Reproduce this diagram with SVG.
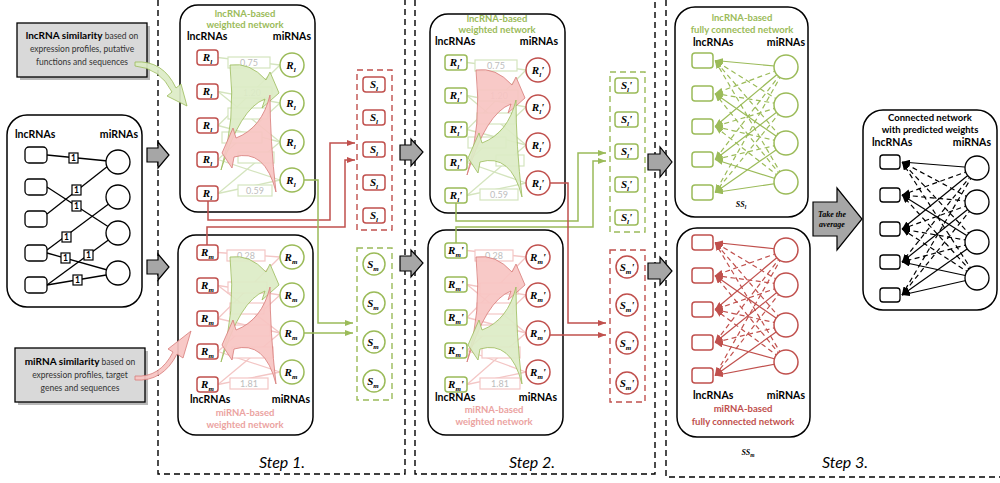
<svg xmlns="http://www.w3.org/2000/svg" width="1000" height="483" viewBox="0 0 1000 483">
<defs>
<style>
.dash{fill:none;stroke:#000;stroke-width:1.4;stroke-dasharray:6 4}
.panel{fill:#fff;stroke:#000;stroke-width:1.5}
.hdr{font-family:Lato,"Liberation Sans",sans-serif;font-weight:bold;font-size:10.5px;fill:#000}
.ttl{font-family:Lato,"Liberation Sans",sans-serif;font-weight:bold;font-size:9.5px;text-anchor:middle}
.tg{fill:#9bbb59}.tp{fill:#eba3a1}.tr{fill:#c0504d}.tk{fill:#000}
.sqR{fill:#fff;stroke:#c0504d;stroke-width:1.5}
.sqG{fill:#fff;stroke:#9bbb59;stroke-width:1.5}
.sqK{fill:#fff;stroke:#000;stroke-width:1.3}
.lab{font-family:"Liberation Serif",serif;font-style:italic;font-weight:bold;font-size:11px;text-anchor:middle;fill:#000}
.sub{font-size:7px}
.eG{stroke:#d4e4be;stroke-width:1.3;fill:none}
.eP{stroke:#f3c6c5;stroke-width:1.3;fill:none}
.wbG{fill:#fff;stroke:#d4e4be;stroke-width:1.2}
.wbP{fill:#fff;stroke:#f3c6c5;stroke-width:1.2}
.wt{font-family:Lato,"Liberation Sans",sans-serif;font-size:9px;fill:#bdbdbd;text-anchor:middle}
.swG{fill:#dcecc6;stroke:#9bbb59;stroke-width:.8;fill-opacity:.92}
.swR{fill:#f7c4c2;stroke:#d77b78;stroke-width:.8;fill-opacity:.92}
.gArr{fill:#a6a6a6;stroke:#000;stroke-width:1.2}
.cR{fill:none;stroke:#c0504d;stroke-width:1.5}
.cG{fill:none;stroke:#9bbb59;stroke-width:1.5}
.fG{fill:none;stroke:#9bbb59;stroke-width:1.2}
.fR{fill:none;stroke:#c0504d;stroke-width:1.2}
.fK{fill:none;stroke:#000;stroke-width:1.2}
.d{stroke-dasharray:5 3.5}
.gb{fill:#d9d9d9;stroke:#000;stroke-width:1.3}
.sh{fill:#7f7f7f;opacity:.55}
.gt{font-family:Lato,"Liberation Sans",sans-serif;font-size:8.5px;fill:#333;text-anchor:middle}
.gtb{font-weight:bold;font-size:10px;fill:#000}
.one{font-family:Lato,"Liberation Sans",sans-serif;font-weight:bold;font-size:8.5px;text-anchor:middle}
.step{font-family:Lato,"Liberation Sans",sans-serif;font-style:italic;font-size:16px;text-anchor:middle;fill:#000}
.avg{font-family:"Liberation Serif",serif;font-style:italic;font-weight:bold;font-size:8px;text-anchor:middle;fill:#000}
</style>
<marker id="mR" viewBox="0 0 8 6" refX="8" refY="3" markerWidth="8" markerHeight="6" markerUnits="userSpaceOnUse" orient="auto"><path d="M0,0 L8,3 L0,6 Z" fill="#c0504d"/></marker>
<marker id="mG" viewBox="0 0 8 6" refX="8" refY="3" markerWidth="8" markerHeight="6" markerUnits="userSpaceOnUse" orient="auto"><path d="M0,0 L8,3 L0,6 Z" fill="#9bbb59"/></marker>
<marker id="mK" viewBox="0 0 8 6" refX="8" refY="3" markerWidth="8" markerHeight="6" markerUnits="userSpaceOnUse" orient="auto"><path d="M0,0 L8,3 L0,6 Z" fill="#000"/></marker>
<path id="swA" d="M230,65 Q250,62 266,80 L270,72 L279,93 L262,108 L265,99 Q240,108 221,170 Q236,120 230,65 Z"/>
<path id="swB" d="M270,95 Q262,128 236,138 L233,128 L222,153 L232,168 L234,157 Q265,148 276,192 Q270,140 270,95 Z"/>
</defs>
<rect width="1000" height="483" fill="#fff"/>

<g id="step-frames">
<path class="dash" d="M158,0 V474 H405 V0"/>
<path class="dash" d="M415,0 V474 H655 V0"/>
<path class="dash" d="M666,0 V477 H1000"/>
<text class="step" x="282" y="468">Step 1.</text>
<text class="step" x="532" y="468">Step 2.</text>
<text class="step" x="845" y="468">Step 3.</text>
</g>

<g id="lnc-similarity">
<rect class="sh" x="20" y="26" width="130" height="54"/>
<rect class="gb" x="17" y="23" width="130" height="54"/>
<text class="gt" x="82" y="39"><tspan class="gtb">lncRNA similarity</tspan> based on</text>
<text class="gt" x="82" y="52">expression profiles, putative</text>
<text class="gt" x="82" y="65">functions and sequences</text>
</g>
<g id="mi-similarity">
<rect class="sh" x="18" y="351" width="130" height="54"/>
<rect class="gb" x="15" y="348" width="130" height="54"/>
<text class="gt" x="80" y="365"><tspan class="gtb">miRNA similarity</tspan> based on</text>
<text class="gt" x="80" y="378">expression profiles, target</text>
<text class="gt" x="80" y="391">genes and sequences</text>
</g>

<g id="bipartite">
<rect class="panel" x="7" y="115" width="135" height="192" rx="20"/>
<text class="hdr" x="15" y="138">lncRNAs</text>
<text class="hdr" x="138" y="138" text-anchor="end">miRNAs</text>
<g stroke="#000" stroke-width="1.3">
<line x1="47" y1="155" x2="118" y2="162"/>
<line x1="47" y1="214" x2="108" y2="166"/>
<line x1="47" y1="187" x2="118" y2="233"/>
<line x1="47" y1="250" x2="118" y2="197"/>
<line x1="47" y1="285" x2="118" y2="233"/>
<line x1="47" y1="253" x2="118" y2="273"/>
<line x1="47" y1="285" x2="118" y2="273"/>
</g>
<g fill="#fff" stroke="#000" stroke-width="1.2">
<rect x="69" y="153" width="9" height="10"/>
<rect x="72" y="185" width="9" height="10"/>
<rect x="72" y="201" width="9" height="10"/>
<rect x="62" y="232" width="9" height="10"/>
<rect x="84" y="250" width="9" height="10"/>
<rect x="61" y="253" width="9" height="10"/>
<rect x="73" y="275" width="9" height="10"/>
</g>
<g class="one">
<text x="73.5" y="161">1</text>
<text x="76.5" y="193">1</text>
<text x="76.5" y="209">1</text>
<text x="66.5" y="240">1</text>
<text x="88.5" y="258">1</text>
<text x="65.5" y="261">1</text>
<text x="77.5" y="283">1</text>
</g>
<g class="sqK">
<rect x="25" y="147" width="22" height="16" rx="4"/>
<rect x="25" y="179" width="22" height="16" rx="4"/>
<rect x="25" y="211" width="22" height="16" rx="4"/>
<rect x="25" y="245" width="22" height="16" rx="4"/>
<rect x="25" y="277" width="22" height="16" rx="4"/>
<circle cx="118" cy="162" r="12"/>
<circle cx="118" cy="197" r="12"/>
<circle cx="118" cy="233" r="12"/>
<circle cx="118" cy="273" r="12"/>
</g>
</g>

<!-- Step 1 top -->
<g id="s1-lnc-network">
<rect class="panel" x="180" y="5" width="135" height="207" rx="18"/>
<text class="ttl tg" x="245" y="17">lncRNA-based</text>
<text class="ttl tg" x="245" y="28">weighted network</text>
<text class="hdr" x="187" y="40">lncRNAs</text>
<text class="hdr" x="311" y="40" text-anchor="end">miRNAs</text>
<g class="eG">
<line x1="218" y1="57.5" x2="280" y2="65"/><line x1="218" y1="91.5" x2="280" y2="103"/><line x1="218" y1="91.5" x2="280" y2="142"/>
<line x1="218" y1="125.5" x2="280" y2="65"/><line x1="218" y1="125.5" x2="280" y2="142"/><line x1="218" y1="159.5" x2="280" y2="103"/>
<line x1="218" y1="159.5" x2="280" y2="180"/><line x1="218" y1="193.5" x2="280" y2="142"/><line x1="218" y1="193.5" x2="280" y2="180"/>
</g>
<g class="wbG">
<rect x="228" y="57" width="42" height="11"/><rect x="232" y="87" width="40" height="11"/><rect x="228" y="108" width="40" height="11"/>
<rect x="222" y="132" width="40" height="11"/><rect x="238" y="152" width="36" height="11"/><rect x="238" y="185" width="34" height="11"/>
</g>
<text class="wt" x="249" y="66">0.75</text><text class="wt" x="252" y="96">1.20</text><text class="wt" x="255" y="194">0.59</text>
<use href="#swA" class="swG"/>
<use href="#swB" class="swR"/>
<g class="sqR"><rect x="197" y="50" width="21" height="15" rx="3"/><rect x="197" y="84" width="21" height="15" rx="3"/><rect x="197" y="118" width="21" height="15" rx="3"/><rect x="197" y="152" width="21" height="15" rx="3"/><rect x="197" y="186" width="21" height="15" rx="3"/></g>
<g class="sqG"><circle cx="292" cy="65" r="12"/><circle cx="292" cy="103" r="12"/><circle cx="292" cy="142" r="12"/><circle cx="292" cy="180" r="12"/></g>
<g class="lab">
<text x="207.5" y="61">R<tspan class="sub" dy="2.5">l</tspan></text><text x="207.5" y="95">R<tspan class="sub" dy="2.5">l</tspan></text><text x="207.5" y="129">R<tspan class="sub" dy="2.5">l</tspan></text><text x="207.5" y="163">R<tspan class="sub" dy="2.5">l</tspan></text><text x="207.5" y="197">R<tspan class="sub" dy="2.5">l</tspan></text>
<text x="291" y="69">R<tspan class="sub" dy="2.5">l</tspan></text><text x="291" y="107">R<tspan class="sub" dy="2.5">l</tspan></text><text x="291" y="146">R<tspan class="sub" dy="2.5">l</tspan></text><text x="291" y="184">R<tspan class="sub" dy="2.5">l</tspan></text>
</g>
</g>

<!-- Step 1 bottom -->
<g id="s1-mi-network">
<rect class="panel" x="178" y="235" width="135" height="200" rx="18"/>
<text class="hdr" x="190" y="403">lncRNAs</text>
<text class="hdr" x="310" y="403" text-anchor="end">miRNAs</text>
<text class="ttl tp" x="245" y="416">miRNA-based</text>
<text class="ttl tp" x="245" y="428">weighted network</text>
<g class="eP">
<line x1="218" y1="252.5" x2="280" y2="257"/><line x1="218" y1="285.5" x2="280" y2="295"/><line x1="218" y1="285.5" x2="280" y2="333"/>
<line x1="218" y1="318.5" x2="280" y2="257"/><line x1="218" y1="318.5" x2="280" y2="333"/><line x1="218" y1="351.5" x2="280" y2="295"/>
<line x1="218" y1="351.5" x2="280" y2="372"/><line x1="218" y1="384.5" x2="280" y2="333"/><line x1="218" y1="384.5" x2="280" y2="372"/>
</g>
<g class="wbP">
<rect x="227" y="250" width="38" height="11"/><rect x="228" y="282" width="39" height="11"/><rect x="230" y="303" width="34" height="11"/>
<rect x="232" y="325" width="38" height="11"/><rect x="232" y="347" width="41" height="11"/><rect x="230" y="378" width="38" height="11"/>
</g>
<text class="wt" x="246" y="259">0.28</text><text class="wt" x="249" y="387">1.81</text>
<use href="#swA" class="swG" transform="translate(0,192)"/>
<use href="#swB" class="swR" transform="translate(0,192)"/>
<g class="sqR"><rect x="197" y="245" width="21" height="15" rx="3"/><rect x="197" y="278" width="21" height="15" rx="3"/><rect x="197" y="311" width="21" height="15" rx="3"/><rect x="197" y="344" width="21" height="15" rx="3"/><rect x="197" y="377" width="21" height="15" rx="3"/></g>
<g class="sqG"><circle cx="292" cy="257" r="12"/><circle cx="292" cy="295" r="12"/><circle cx="292" cy="333" r="12"/><circle cx="292" cy="372" r="12"/></g>
<g class="lab">
<text x="207.5" y="256">R<tspan class="sub" dy="2.5">m</tspan></text><text x="207.5" y="289">R<tspan class="sub" dy="2.5">m</tspan></text><text x="207.5" y="322">R<tspan class="sub" dy="2.5">m</tspan></text><text x="207.5" y="355">R<tspan class="sub" dy="2.5">m</tspan></text><text x="207.5" y="388">R<tspan class="sub" dy="2.5">m</tspan></text>
<text x="291" y="261">R<tspan class="sub" dy="2.5">m</tspan></text><text x="291" y="299">R<tspan class="sub" dy="2.5">m</tspan></text><text x="291" y="337">R<tspan class="sub" dy="2.5">m</tspan></text><text x="291" y="376">R<tspan class="sub" dy="2.5">m</tspan></text>
</g>
</g>

<!-- Step 1 S columns -->
<g id="s1-Sl">
<rect class="dash" x="357" y="70" width="35" height="160" style="stroke:#c0504d"/>
<g class="sqR"><rect x="363" y="77" width="22" height="15" rx="3"/><rect x="363" y="110" width="22" height="15" rx="3"/><rect x="363" y="142" width="22" height="15" rx="3"/><rect x="363" y="175" width="22" height="15" rx="3"/><rect x="363" y="208" width="22" height="15" rx="3"/></g>
<g class="lab"><text x="374" y="88">S<tspan class="sub" dy="2.5">l</tspan></text><text x="374" y="121">S<tspan class="sub" dy="2.5">l</tspan></text><text x="374" y="153">S<tspan class="sub" dy="2.5">l</tspan></text><text x="374" y="186">S<tspan class="sub" dy="2.5">l</tspan></text><text x="374" y="219">S<tspan class="sub" dy="2.5">l</tspan></text></g>
</g>
<g id="s1-Sm">
<rect class="dash" x="357" y="248" width="35" height="152" style="stroke:#9bbb59"/>
<g class="sqG"><circle cx="374" cy="264" r="11"/><circle cx="374" cy="303" r="11"/><circle cx="374" cy="342" r="11"/><circle cx="374" cy="381" r="11"/></g>
<g class="lab"><text x="373" y="268">S<tspan class="sub" dy="2.5">m</tspan></text><text x="373" y="307">S<tspan class="sub" dy="2.5">m</tspan></text><text x="373" y="346">S<tspan class="sub" dy="2.5">m</tspan></text><text x="373" y="385">S<tspan class="sub" dy="2.5">m</tspan></text></g>
</g>

<!-- Step 2 top -->
<g id="s2-lnc-network">
<rect class="panel" x="430" y="14" width="135" height="199" rx="18"/>
<text class="ttl tg" x="497" y="22">lncRNA-based</text>
<text class="ttl tg" x="497" y="33">weighted network</text>
<text class="hdr" x="435" y="45">lncRNAs</text>
<text class="hdr" x="558" y="45" text-anchor="end">miRNAs</text>
<g class="eG">
<line x1="467" y1="62.5" x2="526" y2="70"/><line x1="467" y1="95.5" x2="526" y2="107"/><line x1="467" y1="95.5" x2="526" y2="145"/>
<line x1="467" y1="129.5" x2="526" y2="70"/><line x1="467" y1="129.5" x2="526" y2="145"/><line x1="467" y1="162.5" x2="526" y2="107"/>
<line x1="467" y1="162.5" x2="526" y2="183"/><line x1="467" y1="195.5" x2="526" y2="145"/><line x1="467" y1="195.5" x2="526" y2="183"/>
</g>
<g class="wbG">
<rect x="475" y="60" width="42" height="11"/><rect x="478" y="90" width="40" height="11"/><rect x="477" y="113" width="38" height="11"/>
<rect x="468" y="137" width="38" height="11"/><rect x="496" y="155" width="28" height="11"/><rect x="480" y="189" width="38" height="11"/>
</g>
<text class="wt" x="496" y="69">0.75</text><text class="wt" x="499" y="99">1.20</text><text class="wt" x="499" y="198">0.59</text>
<use href="#swA" class="swR" transform="translate(246,5)"/>
<use href="#swB" class="swG" transform="translate(246,5)"/>
<g class="sqG"><rect x="445" y="55" width="22" height="15" rx="3"/><rect x="445" y="88" width="22" height="15" rx="3"/><rect x="445" y="122" width="22" height="15" rx="3"/><rect x="445" y="155" width="22" height="15" rx="3"/><rect x="445" y="188" width="22" height="15" rx="3"/></g>
<g class="sqR"><circle cx="538" cy="70" r="12"/><circle cx="538" cy="107" r="12"/><circle cx="538" cy="145" r="12"/><circle cx="538" cy="183" r="12"/></g>
<g class="lab">
<text x="456" y="66">R<tspan class="sub" dy="2.5">l</tspan><tspan dy="-2.5">'</tspan></text><text x="456" y="99">R<tspan class="sub" dy="2.5">l</tspan><tspan dy="-2.5">'</tspan></text><text x="456" y="133">R<tspan class="sub" dy="2.5">l</tspan><tspan dy="-2.5">'</tspan></text><text x="456" y="166">R<tspan class="sub" dy="2.5">l</tspan><tspan dy="-2.5">'</tspan></text><text x="456" y="199">R<tspan class="sub" dy="2.5">l</tspan><tspan dy="-2.5">'</tspan></text>
<text x="538" y="74">R<tspan class="sub" dy="2.5">l</tspan><tspan dy="-2.5">'</tspan></text><text x="538" y="111">R<tspan class="sub" dy="2.5">l</tspan><tspan dy="-2.5">'</tspan></text><text x="538" y="149">R<tspan class="sub" dy="2.5">l</tspan><tspan dy="-2.5">'</tspan></text><text x="538" y="187">R<tspan class="sub" dy="2.5">l</tspan><tspan dy="-2.5">'</tspan></text>
</g>
</g>

<!-- Step 2 bottom -->
<g id="s2-mi-network">
<rect class="panel" x="428" y="230" width="135" height="205" rx="18"/>
<text class="hdr" x="435" y="401">lncRNAs</text>
<text class="hdr" x="557" y="401" text-anchor="end">miRNAs</text>
<text class="ttl tp" x="494" y="413">miRNA-based</text>
<text class="ttl tp" x="494" y="425">weighted network</text>
<g class="eP">
<line x1="467" y1="250.5" x2="526" y2="257"/><line x1="467" y1="284.5" x2="526" y2="295"/><line x1="467" y1="284.5" x2="526" y2="333"/>
<line x1="467" y1="317.5" x2="526" y2="257"/><line x1="467" y1="317.5" x2="526" y2="333"/><line x1="467" y1="350.5" x2="526" y2="295"/>
<line x1="467" y1="350.5" x2="526" y2="372"/><line x1="467" y1="384.5" x2="526" y2="333"/><line x1="467" y1="384.5" x2="526" y2="372"/>
</g>
<g class="wbP">
<rect x="475" y="250" width="38" height="11"/><rect x="480" y="283" width="38" height="11"/><rect x="477" y="303" width="36" height="11"/>
<rect x="478" y="325" width="38" height="11"/><rect x="482" y="347" width="38" height="11"/><rect x="480" y="378" width="40" height="11"/>
</g>
<text class="wt" x="494" y="259">0.28</text><text class="wt" x="500" y="387">1.81</text>
<use href="#swA" class="swR" transform="translate(246,192)"/>
<use href="#swB" class="swG" transform="translate(246,192)"/>
<g class="sqG"><rect x="445" y="243" width="22" height="15" rx="3"/><rect x="445" y="277" width="22" height="15" rx="3"/><rect x="445" y="310" width="22" height="15" rx="3"/><rect x="445" y="343" width="22" height="15" rx="3"/><rect x="445" y="377" width="22" height="15" rx="3"/></g>
<g class="sqR"><circle cx="538" cy="257" r="12"/><circle cx="538" cy="295" r="12"/><circle cx="538" cy="333" r="12"/><circle cx="538" cy="372" r="12"/></g>
<g class="lab">
<text x="456" y="254">R<tspan class="sub" dy="2.5">m</tspan><tspan dy="-2.5">'</tspan></text><text x="456" y="288">R<tspan class="sub" dy="2.5">m</tspan><tspan dy="-2.5">'</tspan></text><text x="456" y="321">R<tspan class="sub" dy="2.5">m</tspan><tspan dy="-2.5">'</tspan></text><text x="456" y="354">R<tspan class="sub" dy="2.5">m</tspan><tspan dy="-2.5">'</tspan></text><text x="456" y="388">R<tspan class="sub" dy="2.5">m</tspan><tspan dy="-2.5">'</tspan></text>
<text x="538" y="261">R<tspan class="sub" dy="2.5">m</tspan><tspan dy="-2.5">'</tspan></text><text x="538" y="299">R<tspan class="sub" dy="2.5">m</tspan><tspan dy="-2.5">'</tspan></text><text x="538" y="337">R<tspan class="sub" dy="2.5">m</tspan><tspan dy="-2.5">'</tspan></text><text x="538" y="376">R<tspan class="sub" dy="2.5">m</tspan><tspan dy="-2.5">'</tspan></text>
</g>
</g>

<!-- Step 2 S columns -->
<g id="s2-Sl">
<rect class="dash" x="610" y="72" width="35" height="160" style="stroke:#9bbb59"/>
<g class="sqG"><rect x="615" y="78" width="23" height="15" rx="3"/><rect x="615" y="112" width="23" height="15" rx="3"/><rect x="615" y="144" width="23" height="15" rx="3"/><rect x="615" y="177" width="23" height="15" rx="3"/><rect x="615" y="210" width="23" height="15" rx="3"/></g>
<g class="lab"><text x="626.5" y="89">S<tspan class="sub" dy="2.5">l</tspan><tspan dy="-2.5">'</tspan></text><text x="626.5" y="123">S<tspan class="sub" dy="2.5">l</tspan><tspan dy="-2.5">'</tspan></text><text x="626.5" y="155">S<tspan class="sub" dy="2.5">l</tspan><tspan dy="-2.5">'</tspan></text><text x="626.5" y="188">S<tspan class="sub" dy="2.5">l</tspan><tspan dy="-2.5">'</tspan></text><text x="626.5" y="221">S<tspan class="sub" dy="2.5">l</tspan><tspan dy="-2.5">'</tspan></text></g>
</g>
<g id="s2-Sm">
<rect class="dash" x="610" y="250" width="35" height="152" style="stroke:#c0504d"/>
<g class="sqR"><circle cx="627" cy="267" r="11"/><circle cx="627" cy="305" r="11"/><circle cx="627" cy="343" r="11"/><circle cx="627" cy="383" r="11"/></g>
<g class="lab"><text x="627" y="271">S<tspan class="sub" dy="2.5">m</tspan><tspan dy="-2.5">'</tspan></text><text x="627" y="309">S<tspan class="sub" dy="2.5">m</tspan><tspan dy="-2.5">'</tspan></text><text x="627" y="347">S<tspan class="sub" dy="2.5">m</tspan><tspan dy="-2.5">'</tspan></text><text x="627" y="387">S<tspan class="sub" dy="2.5">m</tspan><tspan dy="-2.5">'</tspan></text></g>
</g>

<!-- Step 3 top -->
<g id="s3-lnc-full">
<rect class="panel" x="675" y="7" width="133" height="210" rx="20"/>
<text class="ttl tg" x="742" y="21">lncRNA-based</text>
<text class="ttl tg" x="742" y="33">fully connected network</text>
<text class="hdr" x="693" y="46">lncRNAs</text>
<text class="hdr" x="805" y="46" text-anchor="end">miRNAs</text>
<g class="fG" marker-end="url(#mG)">
<path d="M786,67L715,60.5"/><path d="M786,67L715,126.5"/><path d="M786,143L715,93.5"/><path d="M786,105L715,159.5"/><path d="M786,143L715,192.5"/><path d="M786,182L715,159.5"/><path d="M786,182L715,192.5"/>
</g>
<g class="fG d" marker-end="url(#mG)">
<path d="M786,67L715,93.5"/><path d="M786,67L715,159.5"/><path d="M786,67L715,192.5"/><path d="M786,105L715,60.5"/><path d="M786,105L715,93.5"/><path d="M786,105L715,126.5"/><path d="M786,105L715,192.5"/><path d="M786,143L715,60.5"/><path d="M786,143L715,126.5"/><path d="M786,143L715,159.5"/><path d="M786,182L715,60.5"/><path d="M786,182L715,93.5"/><path d="M786,182L715,126.5"/>
</g>
<g class="sqG"><rect x="692" y="53" width="21" height="15" rx="3"/><rect x="692" y="86" width="21" height="15" rx="3"/><rect x="692" y="119" width="21" height="15" rx="3"/><rect x="692" y="152" width="21" height="15" rx="3"/><rect x="692" y="185" width="21" height="15" rx="3"/>
<circle cx="786" cy="67" r="12"/><circle cx="786" cy="105" r="12"/><circle cx="786" cy="143" r="12"/><circle cx="786" cy="182" r="12"/></g>
<text class="lab" x="741" y="207" style="font-size:8px">SS<tspan class="sub" dy="2" style="font-size:5.5px">l</tspan></text>
</g>

<!-- Step 3 bottom -->
<g id="s3-mi-full">
<rect class="panel" x="677" y="228" width="133" height="209" rx="20"/>
<text class="hdr" x="693" y="399">lncRNAs</text>
<text class="hdr" x="805" y="399" text-anchor="end">miRNAs</text>
<text class="ttl tr" x="743" y="412">miRNA-based</text>
<text class="ttl tr" x="743" y="425">fully connected network</text>
<g class="fR" marker-end="url(#mR)">
<path d="M786,250L715,242.5"/><path d="M786,250L715,309.5"/><path d="M786,325L715,275.5"/><path d="M786,285L715,342.5"/><path d="M786,325L715,375.5"/><path d="M786,362L715,342.5"/><path d="M786,362L715,375.5"/>
</g>
<g class="fR d" marker-end="url(#mR)">
<path d="M786,250L715,275.5"/><path d="M786,250L715,342.5"/><path d="M786,250L715,375.5"/><path d="M786,285L715,242.5"/><path d="M786,285L715,275.5"/><path d="M786,285L715,309.5"/><path d="M786,285L715,375.5"/><path d="M786,325L715,242.5"/><path d="M786,325L715,309.5"/><path d="M786,325L715,342.5"/><path d="M786,362L715,242.5"/><path d="M786,362L715,275.5"/><path d="M786,362L715,309.5"/>
</g>
<g class="sqR"><rect x="692" y="235" width="21" height="15" rx="3"/><rect x="692" y="268" width="21" height="15" rx="3"/><rect x="692" y="302" width="21" height="15" rx="3"/><rect x="692" y="335" width="21" height="15" rx="3"/><rect x="692" y="368" width="21" height="15" rx="3"/>
<circle cx="786" cy="250" r="12"/><circle cx="786" cy="285" r="12"/><circle cx="786" cy="325" r="12"/><circle cx="786" cy="362" r="12"/></g>
<text class="lab" x="748" y="455" style="font-size:8px">SS<tspan class="sub" dy="2" style="font-size:5.5px">m</tspan></text>
</g>

<!-- Final network -->
<g id="final-network">
<rect class="panel" x="863" y="110" width="134" height="200" rx="20"/>
<text class="ttl tk" x="930" y="121">Connected network</text>
<text class="ttl tk" x="930" y="133">with predicted weights</text>
<text class="hdr" x="872" y="146">lncRNAs</text>
<text class="hdr" x="991" y="146" text-anchor="end">miRNAs</text>
<g class="fK" marker-end="url(#mK)">
<path d="M977,168L902,162"/><path d="M977,168L902,229"/><path d="M977,242L902,195"/><path d="M977,202L902,262"/><path d="M977,242L902,295"/><path d="M977,278L902,262"/><path d="M977,278L902,295"/>
</g>
<g class="fK d" marker-end="url(#mK)">
<path d="M977,168L902,195"/><path d="M977,168L902,262"/><path d="M977,168L902,295"/><path d="M977,202L902,162"/><path d="M977,202L902,195"/><path d="M977,202L902,229"/><path d="M977,202L902,295"/><path d="M977,242L902,162"/><path d="M977,242L902,229"/><path d="M977,242L902,262"/><path d="M977,278L902,162"/><path d="M977,278L902,195"/><path d="M977,278L902,229"/>
</g>
<g class="sqK"><rect x="880" y="155" width="20" height="14" rx="3"/><rect x="880" y="188" width="20" height="14" rx="3"/><rect x="880" y="222" width="20" height="14" rx="3"/><rect x="880" y="255" width="20" height="14" rx="3"/><rect x="880" y="288" width="20" height="14" rx="3"/>
<circle cx="977" cy="168" r="12"/><circle cx="977" cy="202" r="12"/><circle cx="977" cy="242" r="12"/><circle cx="977" cy="278" r="12"/></g>
</g>

<g id="connectors">
<polygon class="gArr" points="147,148 158,148 158,142 169,155 158,168 158,162 147,162"/>
<polygon class="gArr" points="147,260 158,260 158,254 169,267 158,280 158,274 147,274"/>
<polygon class="gArr" points="400,145 411,145 411,139 423,152 411,166 411,160 400,160"/>
<polygon class="gArr" points="400,256 411,256 411,250 423,263 411,277 411,271 400,271"/>
<polygon class="gArr" points="648,154 660,154 660,147 672,162 660,177 660,170 648,170"/>
<polygon class="gArr" points="648,263 660,263 660,257 672,271 660,285 660,279 648,279"/>
<g id="take-average">
<polygon class="gArr" points="813,202 837,202 837,188 862,219 837,250 837,236 813,236"/>
<text class="avg" x="832" y="217">Take the</text>
<text class="avg" x="832" y="227">average</text>
</g>
<path class="swG" d="M135,62 Q163,60 176,88 L181,84 L187,106 L167,96 L172,92 Q160,68 135,66 Z"/>
<path class="swR" d="M135,376 Q160,378 173,352 L168,349 L191,331 L183,358 L177,354 Q163,382 135,380 Z"/>
<path class="cR" marker-end="url(#mR)" d="M208,201 V220 H330 V143 H355"/>
<path class="cR" marker-end="url(#mR)" d="M207,245 V227 H345 V160 H355"/>
<path class="cG" marker-end="url(#mG)" d="M304,180 H318 V323 H353"/>
<path class="cG" marker-end="url(#mG)" d="M304,333 H353"/>
<path class="cG" marker-end="url(#mG)" d="M456,203 V221 H578 V153 H606"/>
<path class="cG" marker-end="url(#mG)" d="M456,243 V227 H593 V161 H606"/>
<path class="cR" marker-end="url(#mR)" d="M550,183 H568 V323 H606"/>
<path class="cR" marker-end="url(#mR)" d="M550,335 H606"/>
</g>
</svg>
